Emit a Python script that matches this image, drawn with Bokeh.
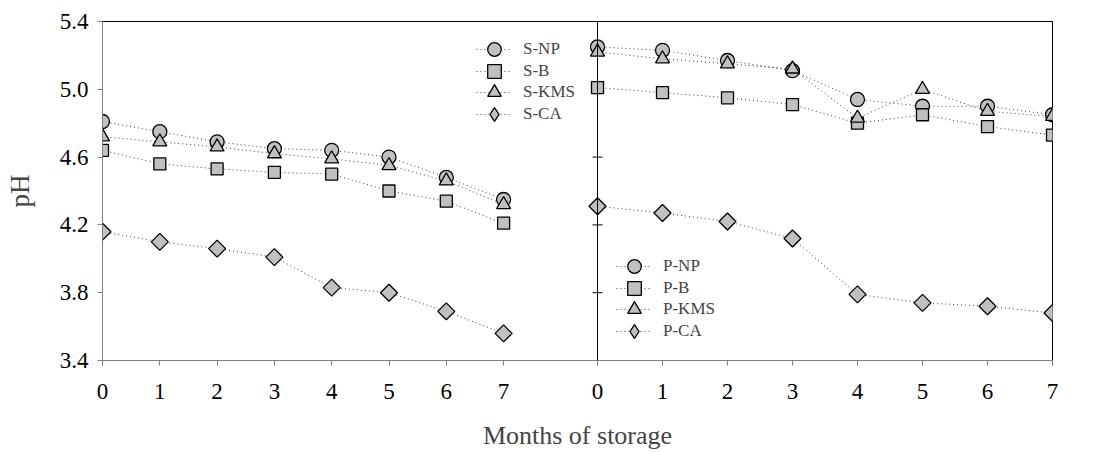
from bokeh.plotting import figure
from bokeh.models import Range1d, FixedTicker, PrintfTickFormatter, Span, Legend, LegendItem
from bokeh.embed import file_html
from bokeh.resources import INLINE

# ---- data ----
months = [0, 1, 2, 3, 4, 5, 6, 7]

s_np = [4.81, 4.75, 4.69, 4.65, 4.64, 4.60, 4.48, 4.35]
s_b = [4.64, 4.56, 4.53, 4.51, 4.50, 4.40, 4.34, 4.21]
s_kms = [4.72, 4.69, 4.66, 4.62, 4.59, 4.55, 4.46, 4.32]
s_ca = [4.16, 4.10, 4.06, 4.01, 3.83, 3.80, 3.69, 3.56]

p_np = [5.25, 5.23, 5.17, 5.11, 4.94, 4.90, 4.90, 4.85]
p_b = [5.01, 4.98, 4.95, 4.91, 4.80, 4.85, 4.78, 4.73]
p_kms = [5.22, 5.18, 5.15, 5.12, 4.83, 5.00, 4.87, 4.84]
p_ca = [4.31, 4.27, 4.22, 4.12, 3.79, 3.74, 3.72, 3.68]

y_ticks = [3.4, 3.8, 4.2, 4.6, 5.0, 5.4]
x_tick_labels = ["0", "1", "2", "3", "4", "5", "6", "7"]

FONT = "Liberation Serif"
FILL = "#C0C0C0"
AXIS_GRAY = "#808080"

# shared axis scale: left panel ticks every LEFT_STEP, right panel starts at MID
LEFT_STEP = 573
MID = 4950
RIGHT_STEP = 650
TOTAL = 9500

p = figure(width=1105, height=452, output_backend="svg", toolbar_location=None,
           x_range=Range1d(0, TOTAL), y_range=Range1d(3.4, 5.4),
           min_border_left=102, min_border_right=53, min_border_top=21,
           min_border_bottom=91)
p.extra_x_ranges = {
    "left": Range1d(0, TOTAL / LEFT_STEP),
    "right": Range1d(-MID / RIGHT_STEP, (TOTAL - MID) / RIGHT_STEP),
}

p.xgrid.visible = False
p.ygrid.visible = False
p.outline_line_color = "black"
p.outline_line_width = 1
p.background_fill_color = "white"
p.border_fill_color = "white"

left_pos = [LEFT_STEP * k for k in months]
right_pos = [MID + RIGHT_STEP * m for m in months]
overrides = {}
for pos, lab in zip(left_pos, x_tick_labels):
    overrides[pos] = lab
for pos, lab in zip(right_pos, x_tick_labels):
    overrides[pos] = lab

xa = p.xaxis[0]
xa.ticker = FixedTicker(ticks=left_pos + right_pos)
xa.major_label_overrides = overrides
xa.minor_tick_line_color = None
xa.major_tick_in = 0
xa.major_tick_out = 5
xa.axis_line_color = AXIS_GRAY
xa.major_tick_line_color = AXIS_GRAY
xa.major_label_text_font = FONT
xa.major_label_text_font_size = "23px"
xa.major_label_text_color = "black"
xa.major_label_standoff = 18
xa.axis_label = "Months of storage"
xa.axis_label_text_font = FONT
xa.axis_label_text_font_size = "26px"
xa.axis_label_text_font_style = "normal"
xa.axis_label_standoff = 19

ya = p.yaxis[0]
ya.ticker = FixedTicker(ticks=y_ticks)
ya.formatter = PrintfTickFormatter(format="%.1f")
ya.minor_tick_line_color = None
ya.major_tick_in = 0
ya.major_tick_out = 5
ya.axis_line_color = AXIS_GRAY
ya.major_tick_line_color = AXIS_GRAY
ya.major_label_text_font = FONT
ya.major_label_text_font_size = "23px"
ya.major_label_text_color = "black"
ya.major_label_standoff = 9
ya.axis_label = "pH"
ya.axis_label_text_font = FONT
ya.axis_label_text_font_size = "27px"
ya.axis_label_text_font_style = "normal"
ya.axis_label_standoff = 22

# middle dividing axis line with crossing ticks
p.add_layout(Span(location=MID, dimension="height", line_color="black", line_width=1))
p.scatter(x=[MID] * (len(y_ticks) - 1), y=y_ticks[1:], marker="dash", size=10,
          line_color="black", line_width=1)


def series(xs, ys, rng, marker, size, angle=0.0, legend_marker=None):
    ln = p.line(xs, ys, x_range_name=rng, line_dash="1 3", line_color="#404040",
                line_width=1)
    sw = None
    if legend_marker is not None:
        # legends never rotate markers: a diamond swatch drawn under the
        # rotated squares (fully hidden by them) supplies the legend symbol
        sw = p.scatter(xs, ys, x_range_name=rng, marker=legend_marker, size=size,
                       fill_color=FILL, line_color="black", line_width=1.3)
    sc = p.scatter(xs, ys, x_range_name=rng, marker=marker, size=size, angle=angle,
                   fill_color=FILL, line_color="black", line_width=1.3)
    return [ln, sw if sw is not None else sc]


s_items = [
    ("S-NP", series(months, s_np, "left", "circle", 14)),
    ("S-B", series(months, s_b, "left", "square", 12)),
    ("S-KMS", series(months, s_kms, "left", "triangle", 14)),
    ("S-CA", series(months, s_ca, "left", "square", 12, 0.785398, "diamond")),
]
p_items = [
    ("P-NP", series(months, p_np, "right", "circle", 14)),
    ("P-B", series(months, p_b, "right", "square", 12)),
    ("P-KMS", series(months, p_kms, "right", "triangle", 14)),
    ("P-CA", series(months, p_ca, "right", "square", 12, 0.785398, "diamond")),
]

ROW = 21.6
GLYPH_H = 34


def add_legend(items, x, y_top_row):
    # one legend per entry so the rows can sit closer than the glyph box
    for i, (label, rends) in enumerate(items):
        lg = Legend(items=[LegendItem(label=label, renderers=rends)],
                    location=(x, int(round(y_top_row - ROW * i))),
                    orientation="vertical", border_line_alpha=0,
                    background_fill_alpha=0, padding=0, margin=0, spacing=0,
                    glyph_width=36, glyph_height=GLYPH_H, label_height=GLYPH_H,
                    label_standoff=11, label_text_font=FONT,
                    label_text_font_size="17px")
        p.add_layout(lg)


add_legend(s_items, 374, 294)
add_legend(p_items, 514, 77)

open("out.html", "w").write(file_html(p, INLINE))
